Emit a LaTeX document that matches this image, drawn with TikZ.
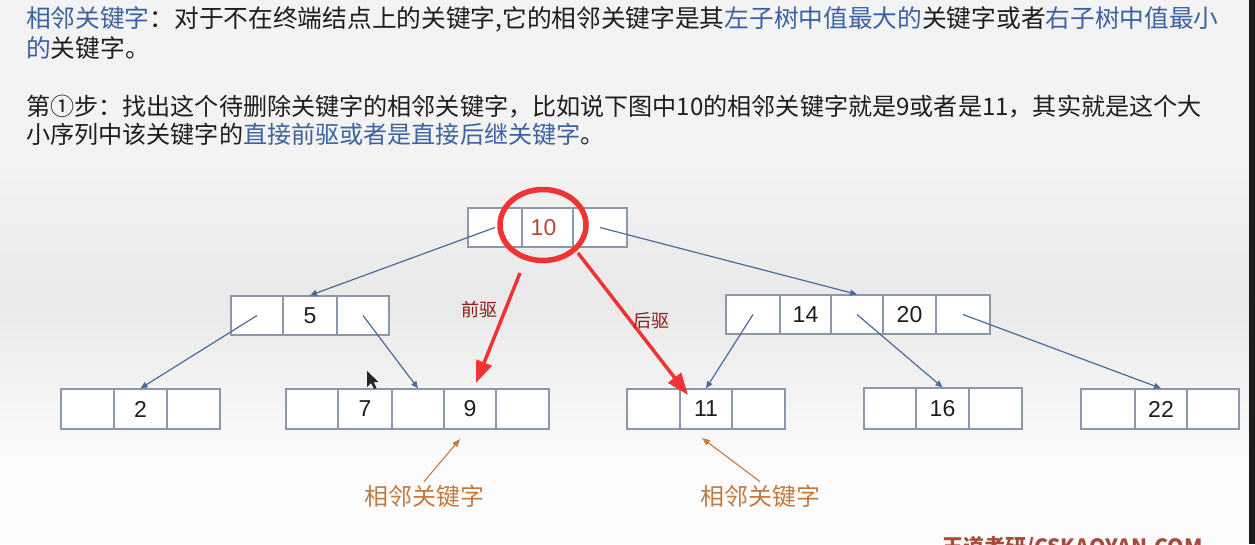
\documentclass[tikz,border=0pt]{standalone}
\usepackage{fontspec}
\setmainfont{Liberation Sans}
\newfontfamily\cjk{Noto Sans CJK SC}
\usetikzlibrary{arrows.meta,shapes.geometric}
\definecolor{txt}{HTML}{1E1E1E}
\definecolor{kblue}{HTML}{3C62A0}
\definecolor{boxc}{HTML}{8C98A8}
\definecolor{linkc}{HTML}{4A6C9A}
\definecolor{redc}{HTML}{F03434}
\definecolor{darkred}{HTML}{8B1A1A}
\definecolor{orangec}{HTML}{C27A45}
\definecolor{numred}{HTML}{B04A3A}
\definecolor{wmc}{HTML}{A84A3A}
\definecolor{bgA}{HTML}{F3F3F3}
\definecolor{bgB}{HTML}{E9E9E9}
\definecolor{bgC}{HTML}{FCFCFC}
\definecolor{strip}{HTML}{1C1C1C}
\tikzset{
  toptext/.style={anchor=base west, inner sep=0pt, font=\cjk\fontsize{24.7}{24.7}\selectfont, text=txt},
  toptextb/.style={anchor=base west, inner sep=0pt, font=\cjk\fontsize{24.1}{24.1}\selectfont, text=txt},
  cell/.style={draw=boxc, line width=1.3pt, fill=white, minimum height=39pt, inner sep=0pt,
    font=\fontsize{23}{23}\selectfont, text=txt},
  link/.style={draw=linkc, line width=1.2pt, -{Triangle[length=7pt,width=6pt]}},
  redarrow/.style={draw=redc, line width=3.5pt, -{Triangle[length=22pt,width=16pt]}},
  oarrow/.style={draw=orangec, line width=1.1pt, -{Triangle[length=8pt,width=6pt]}},
  redlabel/.style={font=\cjk\fontsize{18}{18}\selectfont, text=darkred, inner sep=1pt},
  orangelabel/.style={font=\cjk\fontsize{24}{24}\selectfont, text=orangec, inner sep=3pt},
}
\begin{document}
\begin{tikzpicture}[x=1pt,y=-1pt]
\useasboundingbox (0,0) rectangle (1255,544);
\clip (0,0) rectangle (1255,544);
% background
\fill[bgA] (0,0) rectangle (1255,544);
\shade[top color=bgA, bottom color=bgB] (0,160) rectangle (1249,300);
\shade[top color=bgB, bottom color=bgC] (0,300) rectangle (1249,470);
\fill[bgC] (0,470) rectangle (1249,544);
\fill[strip] (1249,0) rectangle (1255,544);
% top text
\node[toptext] (t1) at (26,27) {{\color{kblue}相邻关键字}：对于不在终端结点上的关键字,它的相邻关键字是其{\color{kblue}左子树中值最大的}关键字或者{\color{kblue}右子树中值最小}};
\node[toptext] (t2) at (26,57.5) {{\color{kblue}的}关键字。};
\node[toptextb] (t3) at (26,115.5) {第①步：找出这个待删除关键字的相邻关键字，比如说下图中10的相邻关键字就是9或者是11，其实就是这个大};
\node[toptextb] (t4) at (26,143.5) {小序列中该关键字的{\color{kblue}直接前驱或者是直接后继关键字}。};
% root
\node[cell, minimum width=54pt] (r1) at (495,227.5) {};
\node[cell, minimum width=51pt] (r2) at (547.5,227.5) {};
\node[cell, minimum width=54pt] (r3) at (600,227.5) {};
\node[inner sep=0pt, text=numred, font=\fontsize{23}{23}\selectfont] (k10) at (543.5,227.5) {10};
% level 2 left
\node[cell, minimum width=52pt] (a1) at (257,315.5) {};
\node[cell, minimum width=54pt] (a2) at (310,315.5) {5};
\node[cell, minimum width=52pt] (a3) at (363,315.5) {};
% level 2 right
\node[cell, minimum width=54pt] (b1) at (753,314.5) {};
\node[cell, minimum width=51pt] (b2) at (805.5,314.5) {14};
\node[cell, minimum width=52pt] (b3) at (857,314.5) {};
\node[cell, minimum width=53pt] (b4) at (909.5,314.5) {20};
\node[cell, minimum width=54pt] (b5) at (963,314.5) {};
% leaves
\node[cell, minimum width=53pt, minimum height=40pt] (c1) at (87.5,409) {};
\node[cell, minimum width=53pt, minimum height=40pt] (c2) at (140.5,409) {2};
\node[cell, minimum width=53pt, minimum height=40pt] (c3) at (193.5,409) {};
\node[cell, minimum width=52pt, minimum height=40pt] (d1) at (312,409) {};
\node[cell, minimum width=54pt, minimum height=40pt] (d2) at (365,409) {7};
\node[cell, minimum width=52pt, minimum height=40pt] (d3) at (418,409) {};
\node[cell, minimum width=52pt, minimum height=40pt] (d4) at (470,409) {9};
\node[cell, minimum width=53pt, minimum height=40pt] (d5) at (522.5,409) {};
\node[cell, minimum width=53pt, minimum height=40pt] (e1) at (653.5,409) {};
\node[cell, minimum width=52pt, minimum height=40pt] (e2) at (706,409) {11};
\node[cell, minimum width=53pt, minimum height=40pt] (e3) at (758.5,409) {};
\node[cell, minimum width=52pt, minimum height=41pt] (f1) at (890,408.5) {};
\node[cell, minimum width=53pt, minimum height=41pt] (f2) at (942.5,408.5) {16};
\node[cell, minimum width=53pt, minimum height=41pt] (f3) at (995.5,408.5) {};
\node[cell, minimum width=54pt, minimum height=40pt] (g1) at (1108,409) {};
\node[cell, minimum width=52pt, minimum height=40pt] (g2) at (1161,409) {22};
\node[cell, minimum width=52pt, minimum height=40pt] (g3) at (1213,409) {};
% tree links
\draw[link] (r1.center) -- (a2.north);
\draw[link] (r3.center) -- (b3.north);
\draw[link] (a1.center) -- (c2.north);
\draw[link] (a3.center) -- (d3.north);
\draw[link] (b1.center) -- (e2.north);
\draw[link] (b3.center) -- (f2.north);
\draw[link] (b5.center) -- (g2.north);
% red ring and arrows
\node[draw=redc, line width=5.5pt, ellipse, minimum width=86pt, minimum height=71pt, inner sep=0pt] (ring) at (543,225) {};
\coordinate (pa1) at (520,273);
\coordinate (pa2) at (476,383);
\coordinate (pb1) at (578,253);
\coordinate (pb2) at (688,395);
\draw[redarrow] (pa1) -- (pa2);
\draw[redarrow] (pb1) -- (pb2);
\node[redlabel] (lq) at (479,310) {前驱};
\node[redlabel] (lh) at (651,321) {后驱};
% orange labels
\node[orangelabel] (n1) at (424,496) {相邻关键字};
\node[orangelabel] (n2) at (760,496) {相邻关键字};
\coordinate (o1) at (460,439);
\coordinate (o2) at (702,438);
\draw[oarrow] (n1.north) -- (o1);
\draw[oarrow] (n2.north) -- (o2);
% cursor
\fill[black!85] (367,371) -- (367,387) -- (371,383) -- (374,389) -- (376.5,388) -- (373.5,382) -- (378.5,382) -- cycle;
% watermark (cut off at the lower edge, as in the reference)
\node[anchor=base west, inner sep=0pt, text=wmc, font=\cjk\bfseries\fontsize{21}{21}\selectfont] (wm) at (942,554) {王道考研/CSKAOYAN.COM};
\end{tikzpicture}
\end{document}
